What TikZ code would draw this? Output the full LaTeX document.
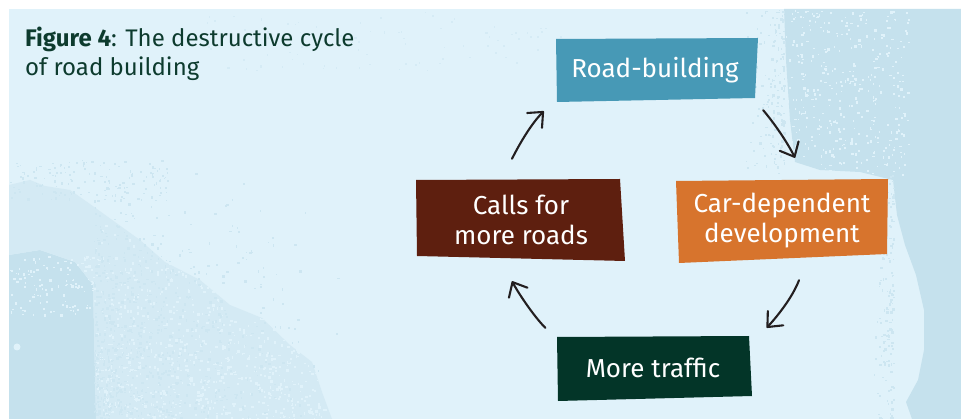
\documentclass[tikz,border=0pt]{standalone}
\usepackage{fontspec}
\setmainfont{Fira Sans}
\usetikzlibrary{arrows.meta}
\definecolor{bglight}{HTML}{E0F2FA}
\definecolor{bgdark}{HTML}{C5E1ED}
\definecolor{roadc}{HTML}{4799B6}
\definecolor{callsc}{HTML}{5E1F0F}
\definecolor{carc}{HTML}{D7742D}
\definecolor{trafc}{HTML}{033528}
\definecolor{titlec}{HTML}{0D3B2E}
\definecolor{arrc}{HTML}{231F20}
\begin{document}
\begin{tikzpicture}[x=1pt,y=-1pt,
  boxtext/.style={inner sep=0pt, align=center, text=white, font=\fontsize{26}{30}\selectfont},
  arr/.style={draw=arrc, line width=2.1pt, line cap=round, line join=round,
    -{Straight Barb[length=12pt,width=21pt,line cap=round,line join=round]}},
  darkdot/.style={fill=bgdark},
  middot/.style={fill=bgdark!70!bglight},
  lightdot/.style={fill=bglight}]
\useasboundingbox (0,0) rectangle (961,419);
\fill[white] (0,0) rectangle (961,419);
\fill[bglight] (9,9) rectangle (961,419);
% textured darker areas
\pgfmathsetseed{7}
\fill[bgdark] (784,9) -- (961,9) -- (961,419) -- (912,419) -- (906,402) -- (918,380) -- (924,350)
  -- (924,310) -- (916,275) -- (905,245) -- (897,215) -- (893,180) -- (860,172) -- (820,170)
  -- (795,162) -- (790,120) -- (786,60) -- cycle;
\fill[bgdark] (9,255) -- (40,250) -- (75,262) -- (93,285) -- (96,419) -- (9,419) -- cycle;
\fill[bgdark!45!bglight] (9,185) -- (30,180) -- (45,186) -- (70,190) -- (90,204) -- (115,222) -- (140,240)
  -- (165,262) -- (200,280) -- (230,305) -- (262,318) -- (290,345) -- (312,362) -- (322,392) -- (332,419)
  -- (96,419) -- (93,285) -- (75,262) -- (40,250) -- (9,255) -- cycle;
\foreach \k in {1,...,380} {
  \fill[lightdot] ({784+125*rnd}, {9+165*rnd}) rectangle ++({1+1.8*rnd},{1+1.8*rnd});
}
\foreach \k in {1,...,160} {
  \fill[middot] ({784-45*rnd*rnd}, {9+165*rnd}) rectangle ++({1+1.8*rnd},{1+1.8*rnd});
}
\foreach \k in {1,...,140} {
  \fill[middot] ({893-25*rnd*rnd}, {175+245*rnd}) rectangle ++({1+2*rnd},{1+2*rnd});
}
\foreach \k in {1,...,120} {
  \fill[lightdot] ({9+88*rnd}, {255+60*rnd}) rectangle ++({1+1.8*rnd},{1+1.8*rnd});
}
\foreach \k in {1,...,900} {
  \fill[lightdot] ({96+230*rnd}, {190+229*sqrt(rnd)}) rectangle ++({1+2*rnd},{1+2*rnd});
}
\foreach \k in {1,...,700} {
  \fill[middot] ({94+250*rnd*rnd}, {170+249*sqrt(rnd)}) rectangle ++({1+2*rnd},{1+2*rnd});
}
\foreach \k in {1,...,150} {
  \fill[middot] ({9+160*rnd}, {160+40*rnd}) rectangle ++({1+1.5*rnd},{1+1.5*rnd});
}
\foreach \k in {1,...,90} {
  \fill[bgdark!40!bglight] ({200+360*rnd}, {10+60*rnd}) rectangle ++({1+1.3*rnd},{1+1.3*rnd});
}
\fill[bglight] (17,347) circle (3.5);
% box shapes
\fill[roadc]  (556,39) -- (758,38) -- (755,98) -- (557,102) -- cycle;
\fill[callsc] (416,180) -- (620,179) -- (625,261) -- (417,256) -- cycle;
\fill[carc]   (676,181) -- (888,179) -- (887,254) -- (679,263) -- cycle;
\fill[trafc]  (557,337) -- (749,336) -- (752,396) -- (558,401) -- cycle;
% title
\node[anchor=base west, inner sep=0pt, align=left, text=titlec,
  font=\fontsize{24}{29}\selectfont] (title) at (25,76)
  {\textbf{Figure 4}: The destructive cycle\\of road building};
% nodes
\node[boxtext, minimum width=200pt, minimum height=62pt] (road) at (655,70) {Road-building};
\node[boxtext, minimum width=208pt, minimum height=80pt] (calls) at (521,220) {Calls for\\more roads};
\node[boxtext, minimum width=210pt, minimum height=82pt] (car) at (782,221) {Car-dependent\\development};
\node[boxtext, minimum width=195pt, minimum height=64pt] (traffic) at (653,368) {More traffic};
% connectors
\draw[arr] ([shift={(-9,-21)}]calls.north) .. controls +(8,-16) and +(-12,12) .. ([shift={(-11,10)}]road.south west);
\draw[arr] ([shift={(8,9)}]road.south east) .. controls +(11,13) and +(-8,-16) .. ([shift={(13,-22)}]car.north);
\draw[arr] ([shift={(17,18)}]car.south) .. controls +(-6,16) and +(12,-13) .. ([shift={(16,-8)}]traffic.north east);
\draw[arr] ([shift={(-10,-8)}]traffic.north west) .. controls +(-11,-11) and +(7,13) .. ([shift={(-9,21)}]calls.south);
\end{tikzpicture}
\end{document}
